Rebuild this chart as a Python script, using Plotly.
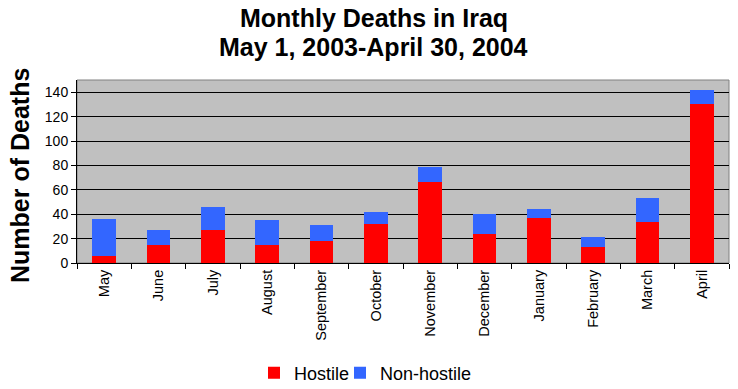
import plotly.graph_objects as go

months = ["May", "June", "July", "August", "September", "October", "November",
          "December", "January", "February", "March", "April"]
hostile = [6, 15, 27, 15, 18, 32, 66, 24, 37, 13, 34, 130]
non_hostile = [30, 12, 19, 20, 13, 10, 13, 16, 7, 8, 19, 12]
y_ticks = [0, 20, 40, 60, 80, 100, 120, 140]

FONT = "Liberation Sans, Arial, sans-serif"
PLOT_TOP, PLOT_BOT = 80, 263
PLOT_L, PLOT_R = 77, 729
PH = PLOT_BOT - PLOT_TOP
PW = PLOT_R - PLOT_L


def py(y_px):
    return (PLOT_BOT - y_px) / PH


def px(x_px):
    return (x_px - PLOT_L) / PW


fig = go.Figure()
fig.add_trace(go.Bar(x=months, y=hostile, name="Hostile", legend="legend",
                     marker=dict(color="#FF0000", line=dict(width=0))))
fig.add_trace(go.Bar(x=months, y=non_hostile, name="Non-hostile", legend="legend2",
                     marker=dict(color="#3366FF", line=dict(width=0))))

legend_common = dict(orientation="h", xanchor="left", y=py(373), yanchor="middle",
                     font=dict(size=18, family=FONT), itemwidth=30, bgcolor="rgba(0,0,0,0)")

fig.update_layout(
    barmode="stack",
    bargap=0.56,
    width=738, height=389,
    margin=dict(l=PLOT_L, r=738 - PLOT_R, t=PLOT_TOP, b=389 - PLOT_BOT, autoexpand=False),
    paper_bgcolor="white",
    plot_bgcolor="#C0C0C0",
    font=dict(family=FONT, color="black", size=13),
    showlegend=True,
    legend=dict(x=px(254), **legend_common),
    legend2=dict(x=px(340), **legend_common),
    annotations=[
        dict(text="<b>Monthly Deaths in Iraq</b>", xref="paper", yref="paper", x=px(374), y=py(18),
             xanchor="center", yanchor="middle", showarrow=False, font=dict(size=25, family=FONT)),
        dict(text="<b>May 1, 2003-April 30, 2004</b>", xref="paper", yref="paper", x=px(373), y=py(47),
             xanchor="center", yanchor="middle", showarrow=False, font=dict(size=25, family=FONT)),
        dict(text="<b>Number of Deaths</b>", xref="paper", yref="paper", x=px(20), y=py(176), textangle=-90,
             xanchor="center", yanchor="middle", showarrow=False, font=dict(size=25, family=FONT)),
    ],
    xaxis=dict(type="category", tickangle=-90, tickson="boundaries", ticks="outside", ticklen=5,
               tickcolor="black", showline=True, linecolor="black", linewidth=1, showgrid=False,
               tickfont=dict(size=14.5, family=FONT), automargin=False),
    yaxis=dict(range=[0, 150], tickvals=y_ticks, ticks="outside", ticklen=5, tickcolor="black",
               showgrid=True, gridcolor="black", gridwidth=1, showline=True, linecolor="black",
               zeroline=False, tickfont=dict(size=14, family=FONT), automargin=False),
    shapes=[dict(type="rect", xref="paper", yref="paper", x0=0, x1=1, y0=0, y1=1,
                 line=dict(color="#808080", width=1), layer="below")],
)

fig.write_html("out.html", config={"displayModeBar": False},
               post_script="document.body.style.margin='0';document.body.style.padding='0';")
